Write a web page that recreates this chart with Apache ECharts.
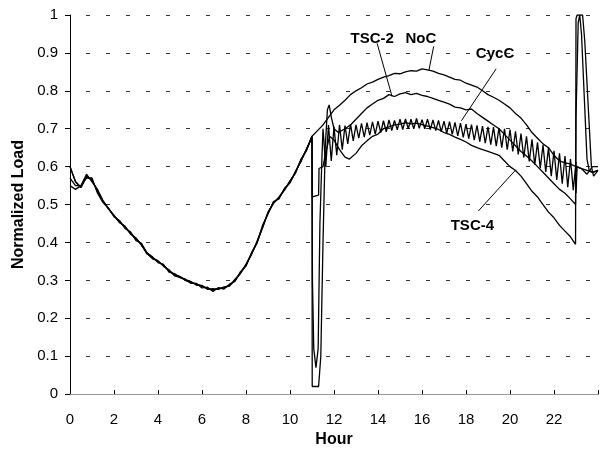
<!DOCTYPE html>
<html><head><meta charset="utf-8">
<script src="https://cdn.jsdelivr.net/npm/echarts@6/dist/echarts.min.js"></script>
<style>html,body{margin:0;padding:0;background:#fff}#c{width:601px;height:453px}</style>
</head><body><div id="c"></div>
<script>
// ---- data (hours, normalized load) ----
const xTickLabels = [0, 2, 4, 6, 8, 10, 12, 14, 16, 18, 20, 22];
const baseStart = 0, baseStep = 0.25;
// 0 .. 11 h, shared part of the curves (slightly different traces)
const baseA = [0.60,0.56,0.545,0.575,0.565,0.535,0.51,0.49,0.47,0.455,0.44,0.425,0.41,0.395,0.37,0.36,0.35,0.34,0.325,0.315,0.31,0.30,0.295,0.29,0.285,0.278,0.275,0.278,0.28,0.287,0.30,0.32,0.34,0.37,0.40,0.44,0.478,0.505,0.518,0.54,0.56,0.585,0.617,0.645,0.68];
const baseB = [0.55,0.54,0.55,0.57,0.57,0.53,0.505,0.49,0.468,0.458,0.437,0.428,0.405,0.398,0.372,0.357,0.352,0.337,0.328,0.312,0.308,0.303,0.292,0.292,0.28,0.282,0.271,0.281,0.277,0.29,0.297,0.323,0.338,0.373,0.398,0.445,0.475,0.508,0.515,0.543,0.557,0.588,0.613,0.648,0.675];
const baseC = [0.57,0.55,0.55,0.58,0.56,0.54,0.51,0.488,0.472,0.452,0.443,0.422,0.412,0.392,0.373,0.362,0.347,0.342,0.322,0.318,0.307,0.302,0.297,0.287,0.287,0.276,0.278,0.276,0.283,0.285,0.303,0.318,0.343,0.368,0.403,0.438,0.48,0.503,0.52,0.538,0.563,0.583,0.62,0.642,0.68];
// NoC after 11 h
const nocStart = 11.25, nocStep = 0.25;
const nocTail = [0.695,0.71,0.73,0.75,0.762,0.775,0.79,0.80,0.808,0.818,0.823,0.83,0.836,0.84,0.846,0.845,0.85,0.853,0.852,0.858,0.855,0.852,0.846,0.842,0.836,0.83,0.828,0.82,0.815,0.81,0.80,0.79,0.783,0.775,0.765,0.755,0.74,0.728,0.71,0.69,0.675,0.66,0.65,0.63,0.615,0.61,0.607,0.60,0.595,0.59,0.585,0.59];
// TSC-2 after 11 h
const tsc2Tail = [[11.01,0.02],[11.3,0.02],[11.4,0.1],[11.5,0.4],[11.6,0.65],[11.7,0.75],[11.78,0.763],[11.88,0.73],[12.0,0.70],[12.2,0.69],[12.5,0.70],[12.75,0.71],[13.0,0.725],[13.25,0.74],[13.5,0.755],[13.75,0.765],[14.0,0.775],[14.25,0.78],[14.5,0.79],[14.75,0.785],[15.0,0.792],[15.25,0.795],[15.5,0.79],[15.75,0.793],[16.0,0.788],[16.25,0.785],[16.5,0.78],[16.75,0.775],[17.0,0.77],[17.25,0.765],[17.5,0.757],[17.75,0.755],[18.0,0.75],[18.25,0.752],[18.5,0.74],[18.75,0.73],[19.0,0.72],[19.25,0.71],[19.5,0.70],[19.75,0.685],[20.0,0.67],[20.25,0.655],[20.5,0.64],[20.75,0.628],[21.0,0.615],[21.25,0.60],[21.5,0.585],[21.75,0.57],[22.0,0.555],[22.25,0.54],[22.5,0.53],[22.75,0.515],[22.98,0.50],[23.0,0.73],[23.1,0.98],[23.17,1.0],[23.25,0.95],[23.5,0.62],[23.6,0.59],[23.75,0.585],[24.0,0.59]];
// TSC-4 after 11 h
const tsc4Tail = [[11.01,0.52],[11.3,0.525],[11.32,0.595],[11.5,0.60],[11.6,0.63],[11.8,0.68],[12.0,0.67],[12.25,0.645],[12.5,0.625],[12.7,0.62],[13.0,0.635],[13.25,0.655],[13.5,0.668],[13.75,0.68],[14.0,0.686],[14.25,0.70],[14.5,0.705],[14.75,0.71],[15.0,0.712],[15.25,0.716],[15.5,0.713],[15.75,0.715],[16.0,0.711],[16.25,0.707],[16.5,0.703],[16.75,0.698],[17.0,0.69],[17.25,0.685],[17.5,0.678],[17.75,0.672],[18.0,0.665],[18.25,0.656],[18.5,0.65],[18.75,0.645],[19.0,0.64],[19.25,0.635],[19.5,0.63],[19.75,0.615],[20.0,0.60],[20.25,0.59],[20.5,0.575],[20.75,0.555],[21.0,0.535],[21.25,0.52],[21.5,0.50],[21.75,0.48],[22.0,0.465],[22.25,0.445],[22.5,0.43],[22.75,0.415],[22.98,0.395],[23.0,0.99],[23.05,1.0],[23.3,1.0],[23.4,0.93],[23.7,0.60],[23.8,0.575],[24.0,0.59]];
// CycC after 11 h: drop, then cyclic zig-zag
const cycDrop = [[11.02,0.30],[11.08,0.12],[11.18,0.07],[11.28,0.12],[11.36,0.45],[11.45,0.62]];
const cycWaveStart = 11.5, cycWaveStep = 0.125;
const cycWave = [0.70,0.60,0.71,0.615,0.705,0.63,0.71,0.645,0.708,0.66,0.712,0.668,0.71,0.675,0.714,0.678,0.716,0.683,0.718,0.686,0.72,0.69,0.721,0.692,0.723,0.695,0.722,0.697,0.725,0.698,0.726,0.70,0.725,0.70,0.727,0.701,0.724,0.70,0.725,0.698,0.723,0.695,0.722,0.692,0.72,0.688,0.719,0.685,0.717,0.681,0.715,0.677,0.712,0.674,0.711,0.67,0.709,0.666,0.707,0.662,0.705,0.658,0.704,0.654,0.702,0.65,0.70,0.645,0.698,0.64,0.693,0.632,0.687,0.624,0.68,0.614,0.672,0.605,0.664,0.596,0.657,0.586,0.65,0.575,0.642,0.565,0.635,0.555,0.628,0.546,0.62,0.538,0.612];
const cycEnd = [[23.0,0.53],[23.05,0.60],[23.25,0.595],[23.5,0.58],[23.75,0.60],[24.0,0.60]];

// annotations (data space)
const labelNames = ['TSC-2', 'NoC', 'CycC', 'TSC-4'];
const labelAt = [[13.74,0.938],[15.95,0.938],[19.32,0.897],[18.29,0.444]];
const arrowFrom = [[13.96,0.925],[16.53,0.917],[19.37,0.858],[18.56,0.483]];
const arrowTo = [[14.64,0.785],[16.31,0.853],[17.79,0.721],[20.27,0.592]];

// ---- build ----
const stepped = (start, step, vals) => vals.map((v, i) => [start + i * step, v]);
const noc = stepped(baseStart, baseStep, baseA).concat(stepped(nocStart, nocStep, nocTail));
const tsc2 = stepped(baseStart, baseStep, baseB).concat(tsc2Tail);
const tsc4 = stepped(baseStart, baseStep, baseC).concat(tsc4Tail);
const cycc = stepped(baseStart, baseStep, baseA).concat(cycDrop, stepped(cycWaveStart, cycWaveStep, cycWave), cycEnd);

const FONT = '"Liberation Sans", Arial, sans-serif';
const lineSeries = (name, data, extra) => Object.assign({
  name, type: 'line', data, showSymbol: false, symbol: 'none',
  lineStyle: { color: '#000', width: 1.3 }, animation: false, z: 3
}, extra || {});

const chart = echarts.init(document.getElementById('c'), null, { renderer: 'canvas' });
chart.setOption({
  animation: false,
  backgroundColor: '#fff',
  grid: { left: 70, top: 15, right: -2, bottom: 51, containLabel: false },
  xAxis: [{
    type: 'value', min: 0, max: 24, interval: 2,
    name: 'Hour', nameLocation: 'middle', nameGap: 32,
    nameTextStyle: { fontFamily: FONT, fontWeight: 'bold', fontSize: 16, color: '#000' },
    axisLine: { show: true, onZero: false, lineStyle: { color: '#000', width: 1 } },
    axisTick: { show: true, inside: true, length: 4, lineStyle: { color: '#000' } },
    axisLabel: { fontFamily: FONT, fontSize: 15, color: '#000', margin: 18,
      formatter: v => (xTickLabels.indexOf(v) >= 0 ? String(v) : '') },
    splitLine: { show: false }
  }, {
    type: 'value', min: 0, max: 24, position: 'top',
    axisLine: { show: true, lineStyle: { color: '#999', width: 1 } },
    axisTick: { show: false }, axisLabel: { show: false }, splitLine: { show: false }
  }],
  yAxis: {
    type: 'value', min: 0, max: 1, interval: 0.1,
    name: 'Normalized Load', nameLocation: 'middle', nameGap: 42,
    nameTextStyle: { fontFamily: FONT, fontWeight: 'bold', fontSize: 16, color: '#000' },
    axisLine: { show: true, lineStyle: { color: '#000', width: 1 } },
    axisTick: { show: true, inside: false, length: 5, lineStyle: { color: '#000' } },
    axisLabel: { fontFamily: FONT, fontSize: 15, color: '#000', margin: 12,
      formatter: v => String(Math.round(v * 10) / 10) },
    splitLine: { show: true, lineStyle: { color: '#333', width: 1, type: [4, 16], dashOffset: 4 } }
  },
  series: [
    lineSeries('NoC', noc, {
      markLine: {
        silent: true, animation: false, symbol: ['none', 'arrow'], symbolSize: [0, 8],
        label: { show: false },
        lineStyle: { color: '#000', width: 1, type: 'solid' },
        data: arrowFrom.map((f, i) => [{ coord: f }, { coord: arrowTo[i] }])
      },
      markPoint: {
        silent: true, animation: false, symbol: 'circle', symbolSize: 0,
        label: { show: true, position: 'inside', formatter: p => p.name,
          fontFamily: FONT, fontWeight: 'bold', fontSize: 15, color: '#000' },
        data: labelNames.map((n, i) => ({ name: n, coord: labelAt[i] }))
      }
    }),
    lineSeries('TSC-2', tsc2),
    lineSeries('CycC', cycc),
    lineSeries('TSC-4', tsc4)
  ]
});
</script>
</body></html>
